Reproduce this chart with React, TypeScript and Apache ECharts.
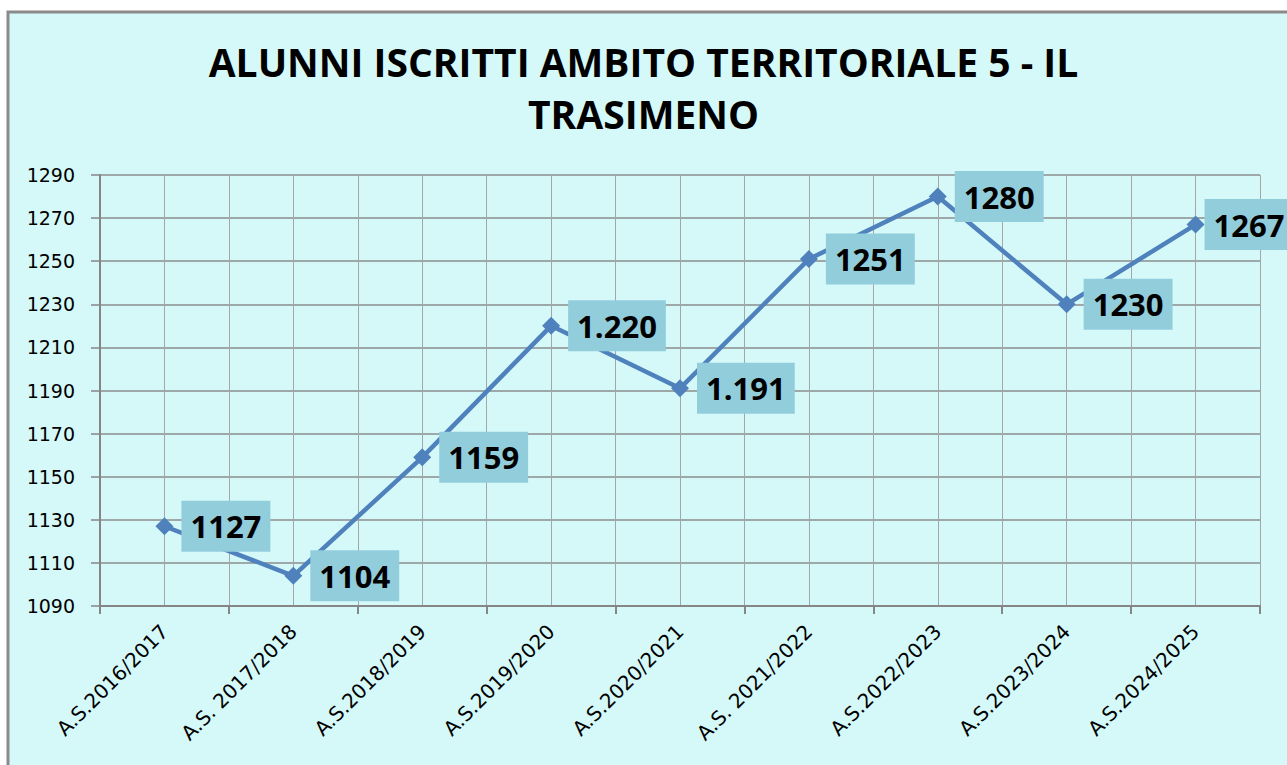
import React, { useEffect, useRef } from "react";
import * as echarts from "echarts";

const categories = [
  "A.S.2016/2017",
  "A.S. 2017/2018",
  "A.S.2018/2019",
  "A.S.2019/2020",
  "A.S.2020/2021",
  "A.S. 2021/2022",
  "A.S.2022/2023",
  "A.S.2023/2024",
  "A.S.2024/2025",
];
const values = [1127, 1104, 1159, 1220, 1191, 1251, 1280, 1230, 1267];
const valueLabels = ["1127", "1104", "1159", "1.220", "1.191", "1251", "1280", "1230", "1267"];
const yMin = 1090;
const yMax = 1290;
const yStep = 20;
const titleText = "ALUNNI ISCRITTI AMBITO TERRITORIALE 5 - IL\nTRASIMENO";

export default function App() {
  const ref = useRef<HTMLDivElement>(null);
  useEffect(() => {
    document.body.style.margin = "0";
    const chart = echarts.init(ref.current!, null, { renderer: "svg" });
    const last = values.length - 1;
    chart.setOption({
      animation: false,
      backgroundColor: "#ffffff",
      graphic: [
        {
          type: "rect",
          z: -10,
          silent: true,
          shape: { x: 8, y: 12, width: 1300, height: 800 },
          style: { fill: "#D5F9F9", stroke: "#8a8a8a", lineWidth: 3 },
        },
      ],
      title: {
        text: titleText,
        left: "center",
        top: 30,
        textStyle: {
          fontFamily: "Open Sans",
          fontWeight: "bold",
          fontSize: 39,
          lineHeight: 52,
          color: "#000",
        },
      },
      grid: { left: 100, right: 27, top: 175, bottom: 159 },
      xAxis: [
        {
          type: "category",
          data: categories,
          boundaryGap: true,
          axisLine: { lineStyle: { color: "#868686", width: 2 } },
          axisTick: { show: true, length: 8, lineStyle: { color: "#868686", width: 2 } },
          splitLine: { show: false },
          axisLabel: {
            rotate: 45,
            margin: 22,
            fontFamily: "DejaVu Sans",
            fontSize: 20,
            color: "#000",
          },
        },
        {
          type: "value",
          min: 0,
          max: 18,
          interval: 1,
          position: "bottom",
          axisLine: { show: false },
          axisTick: { show: false },
          axisLabel: { show: false },
          splitLine: { show: true, lineStyle: { color: "#a6a6a6", width: 1 } },
        },
      ],
      yAxis: {
        type: "value",
        min: yMin,
        max: yMax,
        interval: yStep,
        axisLine: { show: true, lineStyle: { color: "#868686", width: 2 } },
        axisTick: { show: true, length: 9, lineStyle: { color: "#868686", width: 1.5 } },
        splitLine: { show: true, lineStyle: { color: "#8c8c8c", width: 1.5 } },
        axisLabel: {
          margin: 25,
          formatter: (v: number) => String(v),
          fontFamily: "DejaVu Sans",
          fontSize: 19,
          color: "#000",
        },
      },
      series: [
        {
          type: "line",
          xAxisIndex: 0,
          yAxisIndex: 0,
          data: values.map((v, i) => ({
            value: v,
            label: i === last ? { distance: 0 } : undefined,
          })),
          symbol: "diamond",
          symbolSize: 18,
          lineStyle: { color: "#4F81BD", width: 4.5 },
          itemStyle: { color: "#4F81BD" },
          z: 5,
          label: {
            show: true,
            position: "right",
            distance: 8,
            formatter: (p: any) => valueLabels[p.dataIndex],
            fontFamily: "Open Sans",
            fontWeight: "bold",
            fontSize: 31,
            color: "#000",
            backgroundColor: "#92CDDC",
            padding: [7, 9, 7, 9],
            lineHeight: 37,
          },
        },
      ],
    });
    return () => chart.dispose();
  }, []);
  return (
    <div
      ref={ref}
      style={{ position: "fixed", left: 0, top: 0, width: 1287, height: 765 }}
    />
  );
}
